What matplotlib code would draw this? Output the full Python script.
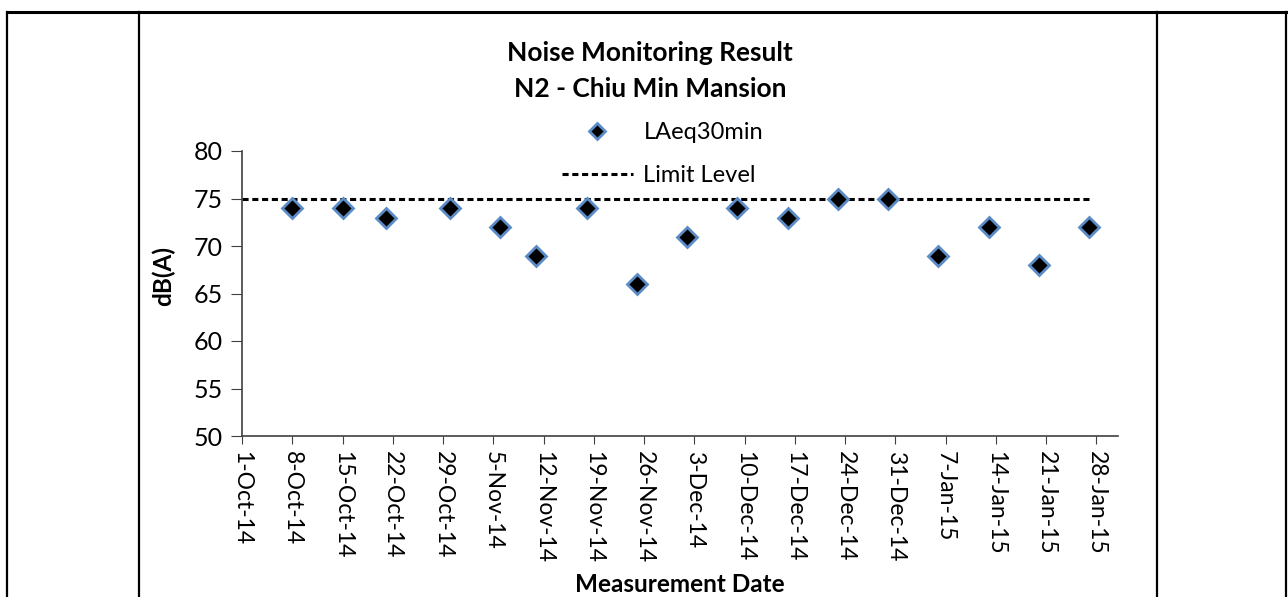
import pandas as pd
import matplotlib
matplotlib.use('Agg')
import matplotlib.pyplot as plt
import matplotlib.dates as mdates
from matplotlib.lines import Line2D

# data
dates = ['2014-10-08', '2014-10-15', '2014-10-21', '2014-10-30', '2014-11-06',
         '2014-11-11', '2014-11-18', '2014-11-25', '2014-12-02', '2014-12-09',
         '2014-12-16', '2014-12-23', '2014-12-30', '2015-01-06', '2015-01-13',
         '2015-01-20', '2015-01-27']
laeq = [74, 74, 73, 74, 72, 69, 74, 66, 71, 74, 73, 75, 75, 69, 72, 68, 72]

limit_dates = ['2014-10-01', '2015-01-27']
limit = [75, 75]

tick_dates = ['2014-10-01', '2014-10-08', '2014-10-15', '2014-10-22', '2014-10-29',
              '2014-11-05', '2014-11-12', '2014-11-19', '2014-11-26', '2014-12-03',
              '2014-12-10', '2014-12-17', '2014-12-24', '2014-12-31', '2015-01-07',
              '2015-01-14', '2015-01-21', '2015-01-28']
tick_labels = ['1-Oct-14', '8-Oct-14', '15-Oct-14', '22-Oct-14', '29-Oct-14',
               '5-Nov-14', '12-Nov-14', '19-Nov-14', '26-Nov-14', '3-Dec-14',
               '10-Dec-14', '17-Dec-14', '24-Dec-14', '31-Dec-14', '7-Jan-15',
               '14-Jan-15', '21-Jan-15', '28-Jan-15']

plt.rcParams['font.family'] = ['Lato', 'DejaVu Sans']

fig = plt.figure(figsize=(12.88, 5.97), dpi=100)
ax = fig.add_axes([242/1288, 1-436/597, (1118-242)/1288, (436-151)/597])

ax.plot(pd.to_datetime(limit_dates), limit, color='black', lw=2.2,
        linestyle=(0, (2.0, 1.2)), label='Limit Level', zorder=2)
ax.plot(pd.to_datetime(dates), laeq, linestyle='none', marker='D', ms=10.5,
        mfc='black', mec='#5B8CC8', mew=2.0, label='LAeq30min', zorder=3)

ax.set_xlim(pd.Timestamp('2014-10-01'), pd.Timestamp('2015-01-31'))
ax.set_ylim(50, 80)
ax.set_yticks([50, 55, 60, 65, 70, 75, 80])
ax.set_xticks(mdates.date2num(pd.to_datetime(tick_dates)))
ax.set_xticklabels(tick_labels, rotation=270, fontsize=16.5)
ax.tick_params(axis='y', labelsize=18, length=8, direction='out', color='#404040', pad=6)
ax.tick_params(axis='x', length=6, direction='out', color='#404040', pad=5)

for s in ['top', 'right']:
    ax.spines[s].set_visible(False)
for s in ['left', 'bottom']:
    ax.spines[s].set_color('#404040')
    ax.spines[s].set_linewidth(1.2)

fig.text(650/1288, 1-53/597, 'Noise Monitoring Result', ha='center', va='center',
         fontsize=19, fontweight='bold')
fig.text(650/1288, 1-89/597, 'N2 - Chiu Min Mansion', ha='center', va='center',
         fontsize=19, fontweight='bold')
fig.text(163/1288, 1-276/597, 'dB(A)', rotation=90, ha='center', va='center',
         fontsize=17.5, fontweight='bold')
fig.text(680/1288, 1-584/597, 'Measurement Date', ha='center', va='center',
         fontsize=17.5, fontweight='bold')

h, l = ax.get_legend_handles_labels()
ax.legend(h[::-1], l[::-1], loc='center left', bbox_to_anchor=(562/1288, 1-154/597),
          bbox_transform=fig.transFigure, frameon=False, fontsize=17,
          handlelength=3.0, handletextpad=0.45, labelspacing=0.95,
          borderpad=0, borderaxespad=0, markerscale=0.75)

# table cell borders around the chart
fig.add_artist(Line2D([7/1288, 1286/1288], [1-12/597, 1-12/597], color='black', lw=2.2))
for xp in [7, 139, 1157, 1286]:
    fig.add_artist(Line2D([xp/1288, xp/1288], [0, 1-12/597], color='black', lw=1.6))

fig.savefig('out.png', dpi=100)
